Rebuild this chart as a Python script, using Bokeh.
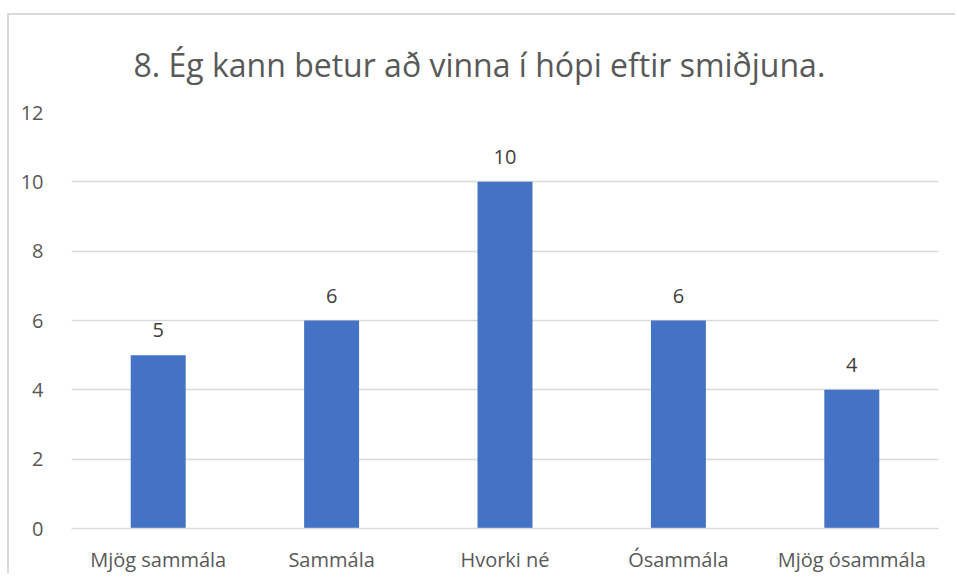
from bokeh.plotting import figure
from bokeh.models import ColumnDataSource, FixedTicker, LabelSet
from bokeh.core.properties import value
from bokeh.embed import file_html
from bokeh.resources import INLINE

categories = ["Mjög sammála", "Sammála", "Hvorki né", "Ósammála", "Mjög ósammála"]
values = [5, 6, 10, 6, 4]
y_ticks = [0, 2, 4, 6, 8, 10, 12]
title_text = "8. Ég kann betur að vinna í hópi eftir smiðjuna."

FONT = "Open Sans"
TXT = "#595959"
GRID = "#d9d9d9"

src = ColumnDataSource(dict(cat=categories, val=values, lab=[str(v) for v in values]))

p = figure(x_range=categories, y_range=(0, 12), width=948, height=560,
           output_backend="svg", toolbar_location=None, title=title_text,
           min_border_left=62, min_border_right=19, min_border_top=97, min_border_bottom=45)
p.outline_line_color = None
p.background_fill_color = "white"
p.border_fill_color = "white"
p.styles = {"border-top": "2px solid #d9d9d9", "border-left": "2px solid #d9d9d9",
            "border-right": "none", "border-bottom": "none",
            "margin-left": "7px", "margin-top": "13px"}

p.title.align = "left"
p.title.offset = 62
p.title.vertical_align = "top"
p.title.standoff = 50
p.title.text_font = FONT
p.title.text_font_size = "32px"
p.title.text_font_style = "normal"
p.title.text_color = TXT

p.vbar(x="cat", top="val", width=0.317, source=src, color="#4472c4", line_color=None)

labels = LabelSet(x="cat", y="val", text="lab", source=src, text_align="center",
                  text_baseline="bottom", y_offset=18, text_font=value(FONT),
                  text_font_size="20px", text_color="#404040")
p.add_layout(labels)

p.yaxis.ticker = FixedTicker(ticks=y_ticks)
p.yaxis.axis_line_color = None
p.yaxis.major_tick_line_color = None
p.yaxis.minor_tick_line_color = None
p.yaxis.major_label_standoff = 22
p.yaxis.major_label_text_font = FONT
p.yaxis.major_label_text_font_size = "20px"
p.yaxis.major_label_text_color = TXT

p.xaxis.axis_line_color = GRID
p.xaxis.axis_line_width = 1.5
p.xaxis.major_tick_line_color = None
p.xaxis.minor_tick_line_color = None
p.xaxis.major_label_standoff = 11
p.xaxis.major_label_text_font = FONT
p.xaxis.major_label_text_font_size = "20px"
p.xaxis.major_label_text_color = TXT

p.xgrid.grid_line_color = None
p.ygrid.grid_line_color = GRID
p.ygrid.grid_line_width = 1.5

open("out.html", "w").write(file_html(p, INLINE))
